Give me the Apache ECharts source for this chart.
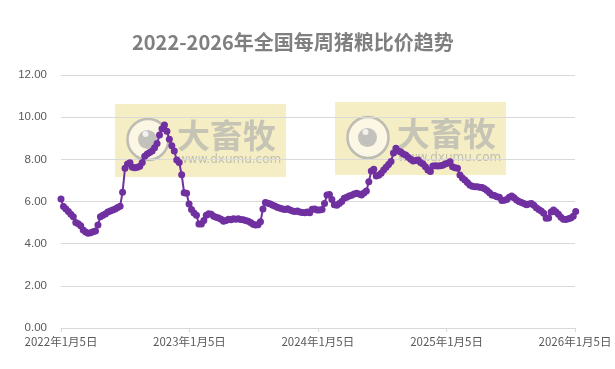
<!DOCTYPE html>
<html><head><meta charset="utf-8">
<script src="https://cdn.jsdelivr.net/npm/echarts@6/dist/echarts.min.js"></script>
<style>html,body{margin:0;padding:0;background:#fff}#c{width:615px;height:369px}</style>
</head><body><div id="c"></div>
<script>
const titleText = '2022-2026年全国每周猪粮比价趋势';
const startDate = '2022-01-05';
const xTickDays = [0, 365, 730, 1096, 1461];
const xTickLabels = ['2022年1月5日', '2023年1月5日', '2024年1月5日', '2025年1月5日', '2026年1月5日'];
const yTicks = [0, 2, 4, 6, 8, 10, 12];
const ratio2022 = [6.12,5.76,5.65,5.52,5.40,5.28,5.00,4.95,4.85,4.65,4.55,4.49,4.52,4.57,4.60,4.89,5.28,5.35,5.41,5.50,5.55,5.60,5.65,5.72,5.78,6.44,7.58,7.78,7.84,7.62,7.60,7.62,7.67,7.85,8.15,8.25,8.32,8.40,8.55,8.75,9.15,9.45,9.63,9.33,8.95,8.65,8.40,7.97,7.85,7.27,6.42,6.39];
const ratio2023 = [5.88,5.62,5.45,5.35,4.93,4.93,5.10,5.35,5.42,5.40,5.30,5.25,5.22,5.16,5.06,5.10,5.16,5.14,5.18,5.16,5.18,5.15,5.14,5.10,5.06,5.00,4.92,4.89,4.90,5.04,5.65,5.95,5.92,5.88,5.82,5.78,5.72,5.68,5.64,5.62,5.66,5.60,5.55,5.52,5.55,5.50,5.48,5.47,5.50,5.47,5.63,5.65];
const ratio2024 = [5.60,5.60,5.62,5.91,6.31,6.33,6.10,5.85,5.82,5.91,6.00,6.15,6.20,6.26,6.30,6.35,6.39,6.35,6.31,6.40,6.50,6.94,7.45,7.53,7.21,7.25,7.34,7.50,7.62,7.75,7.90,8.30,8.52,8.40,8.35,8.25,8.20,8.10,8.00,7.92,7.95,7.97,7.85,7.78,7.65,7.50,7.42,7.68,7.70,7.68,7.70,7.72];
const ratio2025 = [7.78,7.82,7.89,7.65,7.60,7.58,7.26,7.12,7.02,6.90,6.78,6.72,6.70,6.70,6.68,6.66,6.60,6.52,6.42,6.31,6.28,6.22,6.20,6.05,6.06,6.10,6.20,6.26,6.18,6.07,6.00,5.95,5.90,5.85,5.88,5.91,5.82,5.70,5.62,5.55,5.44,5.20,5.22,5.50,5.60,5.50,5.40,5.25,5.16,5.15,5.18,5.22,5.30,5.52];

const weekly = ratio2022.concat(ratio2023, ratio2024, ratio2025);
const seriesData = weekly.map((v, i) => [i * 7, v]);

function watermark(x, y) {
  return {
    type: 'group', x: x, y: y, z: 100, silent: true,
    children: [
      { type: 'rect', shape: { x: 0, y: 0, width: 171, height: 73 },
        style: { fill: 'rgba(212,184,10,0.21)', shadowBlur: 3, shadowColor: 'rgba(212,184,10,0.15)' } },
      { type: 'circle', shape: { cx: 33, cy: 35.5, r: 20.5 },
        style: { fill: 'rgba(255,255,255,0.55)', stroke: 'rgba(165,165,165,0.7)', lineWidth: 2.5 } },
      { type: 'circle', shape: { cx: 32.5, cy: 35.5, r: 9.5 },
        style: { fill: 'rgba(170,170,170,0.7)' } },
      { type: 'circle', shape: { cx: 30.5, cy: 30, r: 3 },
        style: { fill: 'rgba(255,255,255,0.75)' } },
      { type: 'text', x: 62, y: 15,
        style: { text: '大畜牧', font: 'bold 33px "Noto Sans CJK SC"', fill: 'rgba(170,170,170,0.62)' } },
      { type: 'text', x: 63, y: 50,
        style: { text: 'www.dxumu.com', font: '12px "DejaVu Sans"', fill: 'rgba(170,170,170,0.7)' } }
    ]
  };
}

const chart = echarts.init(document.getElementById('c'), null, { renderer: 'canvas' });
chart.setOption({
  animation: false,
  backgroundColor: '#fff',
  title: {
    text: titleText, left: 127, top: 27,
    textStyle: { fontFamily: '"Noto Sans CJK SC"', fontWeight: 'bold', fontSize: 20, color: '#7f7f7f' }
  },
  grid: { left: 61, right: 40, top: 75, bottom: 41, containLabel: false, outerBoundsMode: 'none' },
  xAxis: {
    type: 'value', min: 0, max: 1461,
    axisLine: { show: true, lineStyle: { color: '#d9d9d9', width: 1 } },
    axisTick: { show: true, customValues: xTickDays, length: 4, lineStyle: { color: '#d9d9d9' } },
    axisLabel: {
      customValues: xTickDays, margin: 8, color: '#595959', fontSize: 11.5,
      fontFamily: '"Noto Sans CJK SC"', showMinLabel: true, showMaxLabel: true,
      formatter: v => { const k = xTickDays.indexOf(Math.round(v)); return k >= 0 ? xTickLabels[k] : ''; }
    },
    splitLine: { show: false }
  },
  yAxis: {
    type: 'value', min: yTicks[0], max: yTicks[yTicks.length - 1], interval: 2,
    axisLine: { show: false }, axisTick: { show: false },
    axisLabel: { color: '#595959', fontSize: 11.5, margin: 14, fontFamily: '"Liberation Sans"', formatter: v => v.toFixed(2) },
    splitLine: { lineStyle: { color: '#d9d9d9', width: 1 } }
  },
  series: [{
    type: 'line', data: seriesData, clip: false,
    symbol: 'circle', symbolSize: 7, showSymbol: true,
    lineStyle: { color: '#7030a0', width: 2 },
    itemStyle: { color: '#7030a0', borderWidth: 0 }
  }],
  graphic: [watermark(115, 104), watermark(335, 102)]
});
</script></body></html>
